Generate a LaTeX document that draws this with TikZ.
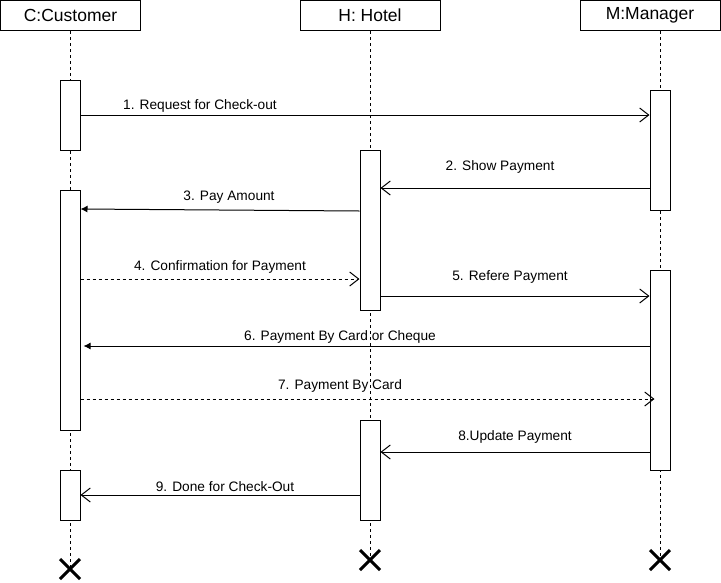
\documentclass[tikz,border=0pt]{standalone}
\usepackage{fontspec}
\setmainfont{Liberation Sans}
\usetikzlibrary{arrows.meta}
\begin{document}
\begin{tikzpicture}[x=1pt,y=-1pt, line width=1pt,
 head/.style={draw, fill=white, minimum width=140pt, minimum height=30pt, inner sep=0pt, font=\fontsize{17.5}{20}\selectfont},
 act/.style={draw, fill=white, minimum width=20pt, inner sep=0pt, anchor=north},
 life/.style={dash pattern=on 3pt off 3pt},
 msg/.style={-{Straight Barb[length=9pt,width=14pt]}},
 msgf/.style={-{Latex[length=7pt,width=7pt]}},
 reply/.style={msg, dash pattern=on 3pt off 3pt},
 lbl/.style={font=\fontsize{13.7}{16}\selectfont, inner sep=0pt},
 xmark/.style={line width=3pt}]
\useasboundingbox (0,0) rectangle (721,582);

% headers
\node[head] (C) at (70.5,15.5) {C:Customer};
\node[head] (H) at (370,15.5) {H: Hotel};
\node[head] (M) at (650,15.5) {M:Manager};

% end points of lifelines
\coordinate (cx) at (70,569);
\coordinate (hx) at (370,560);
\coordinate (mx) at (660,560);

% lifelines
\draw[life] (C.south -| cx) -- (cx);
\draw[life] (H.south -| hx) -- (hx);
\draw[life] (M.south -| mx) -- (mx);

% activations
\node[act, minimum height=70pt]  (ca1) at (70,80) {};
\node[act, minimum height=240pt] (ca2) at (70,190) {};
\node[act, minimum height=50pt]  (ca3) at (70,470) {};
\node[act, minimum height=160pt] (ha1) at (370,150) {};
\node[act, minimum height=100pt] (ha2) at (370,420) {};
\node[act, minimum height=120pt] (ma1) at (660,90) {};
\node[act, minimum height=200pt] (ma2) at (660,270) {};

% messages
\draw[msg] (ca1.east |- 0,115) -- (ma1.west |- 0,115);
\draw[msg] (ma1.west |- 0,188) -- (ha1.east |- 0,188);
\draw[msgf] (ha1.west |- 0,211) -- (ca2.east |- 0,209);
\draw[reply] (ca2.east |- 0,279) -- (ha1.west |- 0,279);
\draw[msg] (ha1.east |- 0,296) -- (ma2.west |- 0,296);
\draw[msgf] (ma2.west |- 0,346) -- ([xshift=3pt]ca2.east |- 0,346);
\draw[reply] (ca2.east |- 0,399) -- ([xshift=5pt]ma2.west |- 0,399);
\draw[msg] (ma2.west |- 0,452) -- (ha2.east |- 0,452);
\draw[msg] (ha2.west |- 0,495) -- (ca3.east |- 0,495);

% labels
\node[lbl] (l1) at (200,106) {1. Request for Check-out};
\node[lbl] (l2) at (500,167) {2. Show Payment};
\node[lbl] (l3) at (229,197) {3. Pay Amount};
\node[lbl] (l4) at (220,267) {4. Confirmation for Payment};
\node[lbl] (l5) at (510,277) {5. Refere Payment};
\node[lbl] (l6) at (340,337) {6. Payment By Card or Cheque};
\node[lbl] (l7) at (340,386) {7. Payment By Card};
\node[lbl] (l8) at (515,437) {8.Update Payment};
\node[lbl] (l9) at (225,487) {9. Done for Check-Out};

% destruction marks
\foreach \p in {cx,hx,mx}{
  \draw[xmark] ([shift={(-10,-10)}]\p) -- ([shift={(10,10)}]\p);
  \draw[xmark] ([shift={(-10,10)}]\p) -- ([shift={(10,-10)}]\p);
}
\end{tikzpicture}
\end{document}
